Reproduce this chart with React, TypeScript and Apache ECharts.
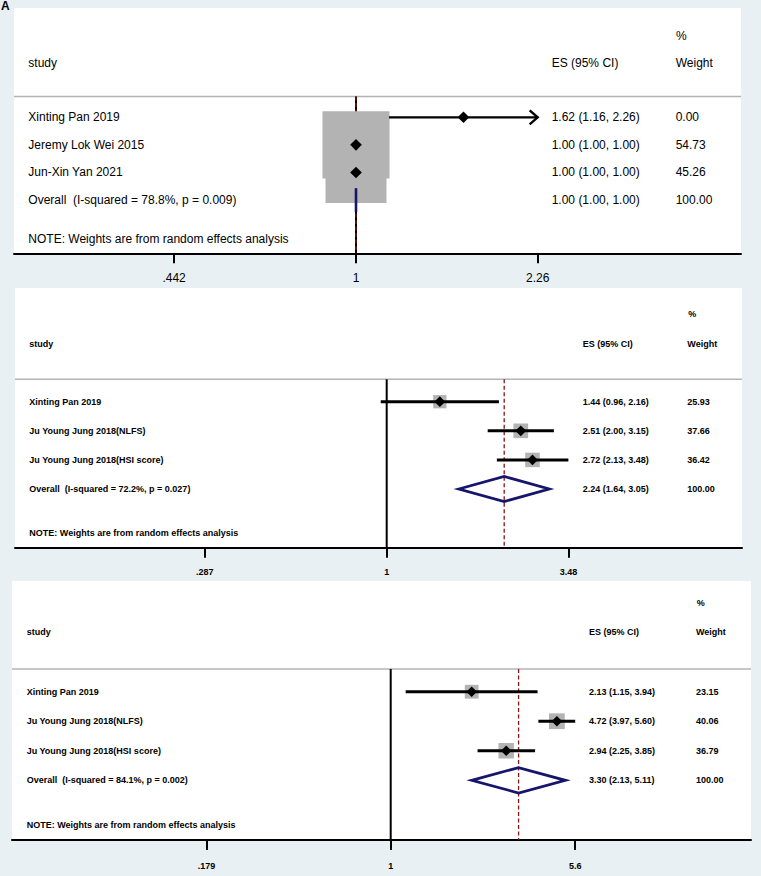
import React, { useEffect, useRef } from "react";
import * as echarts from "echarts";

// ---------- DATA ----------
const studiesA = ["Xinting Pan 2019", "Jeremy Lok Wei 2015", "Jun-Xin Yan 2021"];
const esA = [1.62, 1.0, 1.0];
const loA = [1.16, 1.0, 1.0];
const hiA = [2.26, 1.0, 1.0];
const wtA = [0.0, 54.73, 45.26];
const arrowA = [true, false, false];
const overallA = [1.0, 1.0, 1.0];
const ticksA = [".442", "1", "2.26"];

const studiesB = ["Xinting Pan 2019", "Ju Young Jung 2018(NLFS)", "Ju Young Jung 2018(HSI score)"];
const esB = [1.44, 2.51, 2.72];
const loB = [0.96, 2.0, 2.13];
const hiB = [2.16, 3.15, 3.48];
const wtB = [25.93, 37.66, 36.42];
const arrowB = [false, false, false];
const overallB = [2.24, 1.64, 3.05];
const ticksB = [".287", "1", "3.48"];

const studiesC = ["Xinting Pan 2019", "Ju Young Jung 2018(NLFS)", "Ju Young Jung 2018(HSI score)"];
const esC = [2.13, 4.72, 2.94];
const loC = [1.15, 3.97, 2.25];
const hiC = [3.94, 5.6, 3.85];
const wtC = [23.15, 40.06, 36.79];
const arrowC = [false, false, false];
const overallC = [3.3, 2.13, 5.11];
const ticksC = [".179", "1", "5.6"];

const iSquared = ["78.8", "72.2", "84.1"];
const pHet = ["0.009", "0.027", "0.002"];
const noteText = "NOTE: Weights are from random effects analysis";

// ---------- LAYOUT ----------
const FONT = '"Liberation Sans", Arial, Helvetica, sans-serif';

const layouts = [
  { left: 14, right: 741, top: 8, axisY: 253.3, xCenter: 356, pxPerLn: 222.8, rowY1: 117.3, rowH: 27.57,
    nameX: 14.3, esX: 537.7, wX: 661.7, pctX: 662, pctRow: -1.95, headRow: -0.96, sepRow: 0.25, noteRow: 5.43,
    font: 12, bold: false, ciW: 2.2, dHalf: 5.8, boxScale: 9.06, boxPad: 0, labelMargin: 19, ovW: 2.6 },
  { left: 15, right: 742, top: 288, axisY: 547.7, xCenter: 386.7, pxPerLn: 145.7, rowY1: 401.7, rowH: 29.1,
    nameX: 14.3, esX: 567.7, wX: 672.3, pctX: 673.3, pctRow: -2.01, headRow: -0.98, sepRow: 0.23, noteRow: 5.52,
    font: 9, bold: true, ciW: 3, dHalf: 5.4, boxScale: 1.33, boxPad: 6.5, labelMargin: 20, ovW: 2.8 },
  { left: 12, right: 751, top: 581, axisY: 840, xCenter: 390.7, pxPerLn: 107.1, rowY1: 691.7, rowH: 29.53,
    nameX: 14.7, esX: 577, wX: 684, pctX: 684.7, pctRow: -2.01, headRow: -1.01, sepRow: 0.23, noteRow: 5.51,
    font: 9, bold: true, ciW: 3, dHalf: 5.3, boxScale: 1.32, boxPad: 7.4, labelMargin: 21, ovW: 2.8 },
];

const panels = [
  { studies: studiesA, es: esA, lo: loA, hi: hiA, wt: wtA, arrows: arrowA, overall: overallA, ticks: ticksA },
  { studies: studiesB, es: esB, lo: loB, hi: hiB, wt: wtB, arrows: arrowB, overall: overallB, ticks: ticksB },
  { studies: studiesC, es: esC, lo: loC, hi: hiC, wt: wtC, arrows: arrowC, overall: overallC, ticks: ticksC },
];

const fmt = (v: number) => v.toFixed(2);

function makeRender(pi: number) {
  const P = panels[pi];
  const L = layouts[pi];
  const n = P.studies.length;
  const font = `${L.bold ? "bold " : ""}${L.font}px ${FONT}`;
  const txt = (s: string, x: number, y: number) => ({
    type: "text",
    z2: 20,
    style: { text: s, x, y, fill: "#000", font, align: "left", verticalAlign: "middle" },
  });
  return (params: any, api: any) => {
    const cs = params.coordSys;
    const X = (v: number) => api.coord([Math.log(v), 1])[0];
    const Y = (r: number) => api.coord([0, r])[1];
    const i = params.dataIndex;
    const children: any[] = [];
    if (i === 0) {
      const ySep = Y(L.sepRow);
      const yBot = cs.y + cs.height;
      children.push({ type: "line", z2: 0, shape: { x1: cs.x, y1: ySep, x2: cs.x + cs.width, y2: ySep }, style: { stroke: "#b4b4b4", lineWidth: 1.5 } });
      const x1 = X(1);
      children.push({ type: "line", z2: 0, shape: { x1, y1: ySep, x2: x1, y2: yBot }, style: { stroke: "#000", lineWidth: 2 } });
      const xo = X(P.overall[0]);
      children.push({ type: "line", z2: 1, shape: { x1: xo, y1: ySep, x2: xo, y2: yBot }, style: { stroke: "#8b1414", lineWidth: 1.3, lineDash: [4, 2.5] } });
      const yh = Y(L.headRow);
      children.push(txt("study", cs.x + L.nameX, yh));
      children.push(txt("ES (95% CI)", cs.x + L.esX, yh));
      children.push(txt("Weight", cs.x + L.wX, yh));
      children.push(txt("%", cs.x + L.pctX, Y(L.pctRow)));
      children.push(txt(noteText, cs.x + L.nameX, Y(L.noteRow)));
    } else if (i <= n) {
      const k = i - 1;
      const y = Y(k + 1);
      const xe = X(P.es[k]);
      const w = P.wt[k];
      if (w > 0) {
        const side = L.boxScale * Math.sqrt(w) + L.boxPad;
        children.push({ type: "rect", z2: 2, shape: { x: xe - side / 2, y: y - side / 2, width: side, height: side }, style: { fill: "#b3b3b3" } });
      }
      const xl = X(P.lo[k]);
      const xh = X(P.hi[k]);
      if (xh - xl > 0.5) {
        children.push({ type: "line", z2: 5, shape: { x1: xl, y1: y, x2: xh, y2: y }, style: { stroke: "#000", lineWidth: L.ciW } });
      }
      if (P.arrows[k]) {
        children.push({ type: "polyline", z2: 5, shape: { points: [[xh - 8, y - 7], [xh, y], [xh - 8, y + 7]] }, style: { stroke: "#000", lineWidth: 2.4, fill: "none" } });
      }
      const d = L.dHalf;
      children.push({ type: "polygon", z2: 6, shape: { points: [[xe - d, y], [xe, y - d], [xe + d, y], [xe, y + d]] }, style: { fill: "#000" } });
      children.push(txt(P.studies[k], cs.x + L.nameX, y));
      children.push(txt(`${fmt(P.es[k])} (${fmt(P.lo[k])}, ${fmt(P.hi[k])})`, cs.x + L.esX, y));
      children.push(txt(fmt(w), cs.x + L.wX, y));
    } else {
      const y = Y(n + 1);
      const h = 0.43 * api.size([0, 1])[1];
      const [oe, ol, oh] = P.overall;
      const xe = X(oe), xl = X(ol), xh = X(oh);
      if (xh - xl < 1) {
        children.push({ type: "line", z2: 7, shape: { x1: xe, y1: y - h, x2: xe, y2: y + h }, style: { stroke: "#15156b", lineWidth: L.ovW } });
      } else {
        children.push({ type: "polygon", z2: 7, shape: { points: [[xl, y], [xe, y - h], [xh, y], [xe, y + h]] }, style: { stroke: "#15156b", lineWidth: L.ovW, fill: "none", lineJoin: "miter" } });
      }
      children.push(txt(`Overall  (I-squared = ${iSquared[pi]}%, p = ${pHet[pi]})`, cs.x + L.nameX, y));
      children.push(txt(`${fmt(oe)} (${fmt(ol)}, ${fmt(oh)})`, cs.x + L.esX, y));
      children.push(txt("100.00", cs.x + L.wX, y));
    }
    return { type: "group", children };
  };
}

export default function App() {
  const ref = useRef<HTMLDivElement>(null);
  useEffect(() => {
    if (!ref.current) return;
    const chart = echarts.init(ref.current, undefined, { renderer: "svg" });
    const grids = layouts.map((L) => ({
      show: true,
      backgroundColor: "#ffffff",
      borderWidth: 0,
      left: L.left,
      top: L.top,
      width: L.right - L.left,
      height: L.axisY - L.top,
      containLabel: false,
      outerBoundsMode: "none",
    }));
    const xAxes = layouts.map((L, i) => {
      const tv = panels[i].ticks.map((t) => Math.log(parseFloat(t)));
      const labels = panels[i].ticks;
      return {
        type: "value",
        gridIndex: i,
        min: (L.left - L.xCenter) / L.pxPerLn,
        max: (L.right - L.xCenter) / L.pxPerLn,
        splitLine: { show: false },
        axisLine: { show: true, onZero: false, lineStyle: { color: "#000", width: 2 } },
        axisTick: { show: true, length: 10, customValues: tv, lineStyle: { color: "#000", width: 2 } },
        axisLabel: {
          show: true,
          customValues: tv,
          margin: L.labelMargin,
          color: "#000",
          fontFamily: FONT,
          fontSize: L.font,
          fontWeight: L.bold ? "bold" : "normal",
          formatter: (v: number) => {
            let best = 0;
            tv.forEach((t, j) => { if (Math.abs(t - v) < Math.abs(tv[best] - v)) best = j; });
            return labels[best];
          },
        },
      };
    });
    const yAxes = layouts.map((L, i) => ({
      type: "value",
      gridIndex: i,
      inverse: true,
      show: false,
      min: 1 - (L.rowY1 - L.top) / L.rowH,
      max: 1 + (L.axisY - L.rowY1) / L.rowH,
    }));
    const series = panels.map((P, i) => ({
      type: "custom",
      xAxisIndex: i,
      yAxisIndex: i,
      clip: false,
      renderItem: makeRender(i),
      data: Array.from({ length: P.studies.length + 2 }, () => [0, 1]),
      z: 3,
    }));
    chart.setOption({
      animation: false,
      backgroundColor: "#e9f0f3",
      grid: grids,
      xAxis: xAxes,
      yAxis: yAxes,
      series,
      graphic: [
        { type: "text", left: 1, top: 0, style: { text: "A", font: `bold 12px ${FONT}`, fill: "#000" } },
      ],
    });
    return () => chart.dispose();
  }, []);
  return <div ref={ref} style={{ position: "absolute", left: 0, top: 0, width: 761, height: 876 }} />;
}
